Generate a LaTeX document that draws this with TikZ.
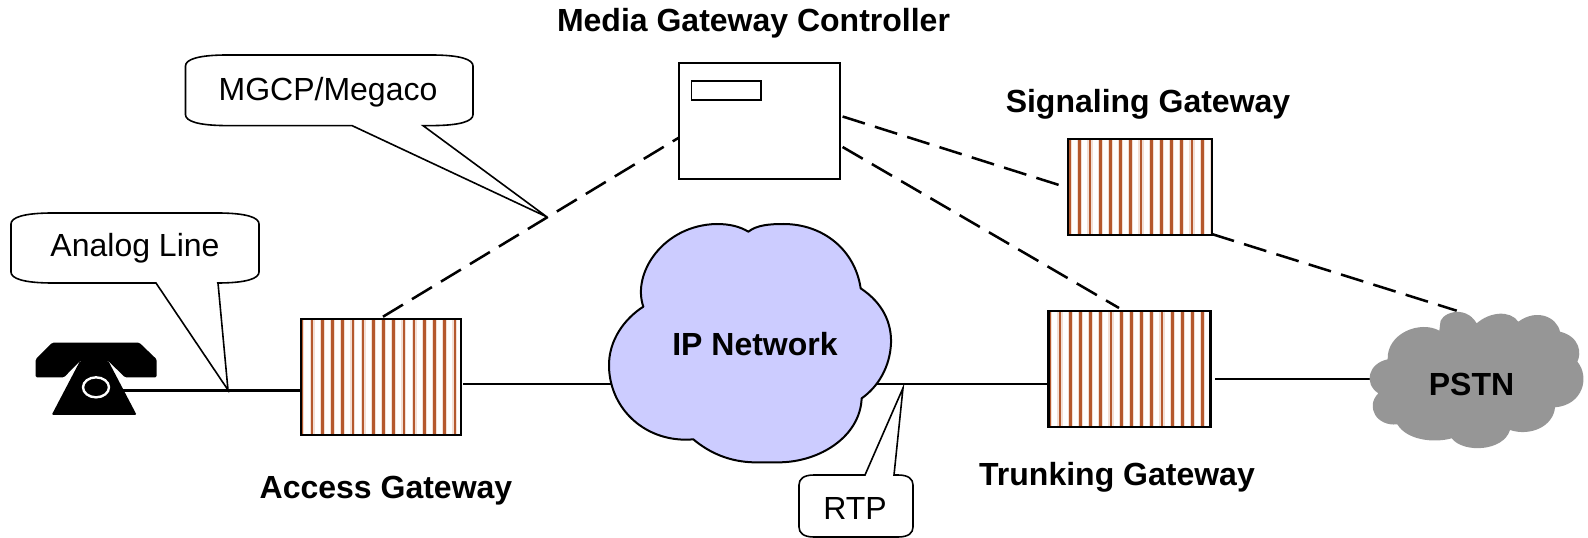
\documentclass[tikz,border=0pt]{standalone}
\usepackage{fontspec}
\setmainfont{Liberation Sans}
\definecolor{stripe}{HTML}{B5592E}
\definecolor{halo}{HTML}{F3E0D6}
\definecolor{ipblue}{HTML}{CCCCFF}
\definecolor{pstngray}{HTML}{969696}
\newcommand{\bubble}[9]{% x1 y1 x2 y2 rx ry tailA tailB tip (tail on bottom)
  \draw[bubbleline] (#1+#5,#2) -- (#3-#5,#2)
    .. controls (#3-0.3*#5,#2) and (#3,#2+0.4*#6) .. (#3,#2+#6)
    -- (#3,#4-#6)
    .. controls (#3,#4-0.4*#6) and (#3-0.3*#5,#4) .. (#3-#5,#4)
    -- (#8,#4) -- (#9) -- (#7,#4) -- (#1+#5,#4)
    .. controls (#1+0.3*#5,#4) and (#1,#4-0.4*#6) .. (#1,#4-#6)
    -- (#1,#2+#6)
    .. controls (#1,#2+0.4*#6) and (#1+0.3*#5,#2) .. (#1+#5,#2) -- cycle;}
\newcommand{\bubbletop}[9]{% tail on top
  \draw[bubbleline] (#1+#5,#2) -- (#7,#2) -- (#9) -- (#8,#2) -- (#3-#5,#2)
    .. controls (#3-0.3*#5,#2) and (#3,#2+0.4*#6) .. (#3,#2+#6)
    -- (#3,#4-#6)
    .. controls (#3,#4-0.4*#6) and (#3-0.3*#5,#4) .. (#3-#5,#4)
    -- (#1+#5,#4)
    .. controls (#1+0.3*#5,#4) and (#1,#4-0.4*#6) .. (#1,#4-#6)
    -- (#1,#2+#6)
    .. controls (#1,#2+0.4*#6) and (#1+0.3*#5,#2) .. (#1+#5,#2) -- cycle;}
\tikzset{
  x=0.75pt,y=-0.75pt,
  conn/.style={line width=1.9pt,black},
  dashconn/.style={line width=1.9pt,black,dash pattern=on 17.5pt off 7.9pt},
  bubbleline/.style={line width=1.2pt,black,fill=white,line join=miter},
  label/.style={font=\fontsize{24}{28}\selectfont,anchor=base,inner sep=0pt,text=black},
  title/.style={label,font=\fontsize{24}{28}\selectfont\bfseries},
  gw/.style={draw=black,line width=1.6pt,fill=white,inner sep=0pt,
    path picture={
      \foreach \k in {-1,...,19}{
        \draw[halo,line width=3.8pt] ([xshift=8.6pt+\k*7.65pt]path picture bounding box.north west) -- ([xshift=8.6pt+\k*7.65pt]path picture bounding box.south west);
        \draw[stripe,line width=2pt] ([xshift=8.6pt+\k*7.65pt]path picture bounding box.north west) -- ([xshift=8.6pt+\k*7.65pt]path picture bounding box.south west);
      }}},
  plainbox/.style={draw=black,line width=1.5pt,fill=white,inner sep=0pt},
}
\begin{document}
\begin{tikzpicture}
\useasboundingbox (0,0) rectangle (1588,538);
% named anchors
\coordinate (phoneR) at (120,390.7);
\coordinate (agL) at (300.7,390.7);
\coordinate (agR) at (463,384);
\coordinate (ipL) at (615,384);
\coordinate (ipR) at (870,384);
\coordinate (tgL) at (1047,384);
\coordinate (tgR) at (1215,379);
\coordinate (pstnL) at (1372,379);
\coordinate (agT) at (383,316.7);
\coordinate (mgcL) at (681.6,136);
\coordinate (mgcR1) at (842.6,116.5);
\coordinate (mgcR2) at (842.6,147);
\coordinate (sgL) at (1068.5,188);
\coordinate (sgB) at (1211.7,234);
\coordinate (tgT) at (1119,308);
\coordinate (pstnT) at (1456.7,310.7);
\coordinate (tipAnalog) at (228,390);
\coordinate (tipMgcp) at (547,217);
\coordinate (tipRtp) at (903,388);
% connectors
\draw[conn] (phoneR) -- (agL);
\draw[conn] (agR) -- (ipL);
\draw[conn] (ipR) -- (tgL);
\draw[conn] (tgR) -- (pstnL);
\draw[dashconn] (agT) -- (mgcL);
\draw[dashconn] (mgcR1) -- (sgL);
\draw[dashconn] (mgcR2) -- (tgT);
\draw[dashconn] (sgB) -- (pstnT);
% gateways
\node[gw,minimum width=120.2pt,minimum height=87.2pt] (ag) at (380.8,376.8) {};
\node[gw,minimum width=107.5pt,minimum height=72pt] (sg) at (1140,186.8) {};
\node[gw,minimum width=121.5pt,minimum height=87pt] (tg) at (1129.5,369) {};
% controller
\node[plainbox,minimum width=121pt,minimum height=87pt] (mgc) at (759.3,121) {};
\node[plainbox,line width=1pt,minimum width=52pt,minimum height=14.2pt] (mgcslot) at (726.3,90.5) {};
% IP cloud
\begin{scope}[shift={(590,210)},scale=1/3]
\draw[line width=1.5pt,fill=ipblue,line join=round]
 (160,290) .. controls (125,190) and (220,45) .. (380,42)
 .. controls (420,42) and (450,50) .. (475,65)
 .. controls (500,45) and (540,42) .. (580,42)
 .. controls (700,42) and (795,120) .. (812,235)
 .. controls (880,280) and (905,340) .. (903,400)
 .. controls (900,470) and (865,530) .. (815,565)
 .. controls (810,680) and (690,755) .. (570,757)
 .. controls (550,757) and (520,757) .. (490,757)
 .. controls (420,755) and (360,730) .. (310,688)
 .. controls (170,700) and (60,600) .. (57,470)
 .. controls (55,390) and (105,325) .. (160,290) -- cycle;
\end{scope}
\node[title] (ipnet) at (755,355) {IP Network};
% PSTN cloud
\begin{scope}[shift={(1340,290)},scale=1/3]
\fill[pstngray]
 (300,105) .. controls (295,70) and (375,40) .. (410,100)
 .. controls (450,65) and (510,60) .. (535,95)
 .. controls (590,55) and (650,80) .. (660,125)
 .. controls (720,140) and (725,190) .. (712,215)
 .. controls (750,260) and (730,345) .. (645,352)
 .. controls (640,410) and (570,440) .. (510,420)
 .. controls (490,485) and (370,490) .. (335,445)
 .. controls (280,460) and (200,450) .. (172,403)
 .. controls (110,410) and (75,350) .. (115,310)
 .. controls (70,280) and (85,220) .. (143,208)
 .. controls (140,130) and (240,90) .. (298,122) -- cycle;
\end{scope}
\node[title] (pstn) at (1471.5,395) {PSTN};
% phone
\begin{scope}[shift={(0,200)},scale=1/3]
\fill[black,rounded corners=1pt] (107,478) -- (157,428) -- (418,428) -- (470,478) -- (470,532) -- (375,532) -- (325,483) -- (240,483) -- (192,532) -- (107,532) -- cycle;
\fill[black,rounded corners=1pt] (240,483) -- (325,483) -- (410,645) -- (155,645) -- cycle;
\draw[white,line width=1.8pt] (288,562) ellipse (39 and 30);
\end{scope}
% callouts
\bubble{11}{213}{259}{283}{42}{11}{156}{218}{tipAnalog}
\node[label] (analog) at (135,257) {Analog Line};
\bubble{185.5}{55}{473}{125.6}{42}{11}{352}{423}{tipMgcp}
\node[label] (mgcp) at (328,101) {MGCP/Megaco};
\bubbletop{799}{475}{913}{537}{15}{10}{865}{894}{tipRtp}
\node[label] (rtp) at (855,519) {RTP};
% titles
\node[title] (tmgc) at (753.5,31.4) {Media Gateway Controller};
\node[title] (tsg) at (1148,112.4) {Signaling Gateway};
\node[title] (ttg) at (1117,485) {Trunking Gateway};
\node[title] (tag) at (386,498) {Access Gateway};
\end{tikzpicture}
\end{document}
